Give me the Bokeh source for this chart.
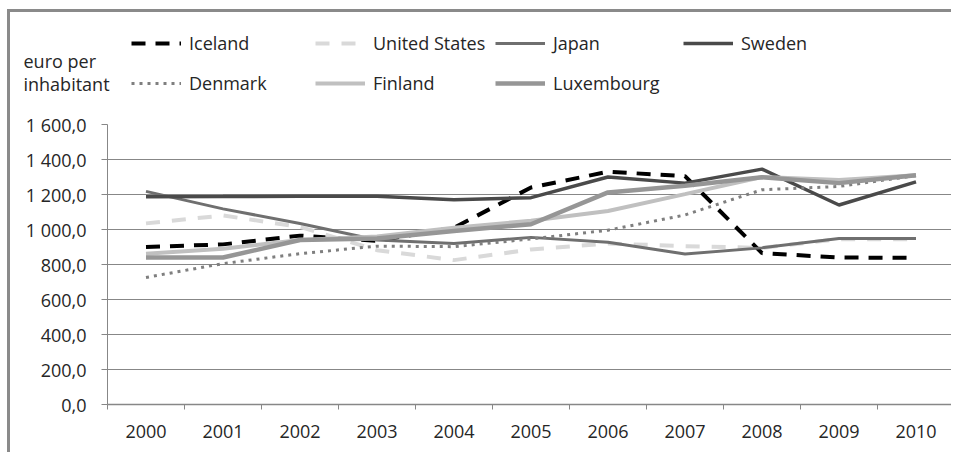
from bokeh.plotting import figure
from bokeh.models import FixedTicker, Legend, LegendItem, Label
from bokeh.embed import file_html
from bokeh.resources import INLINE

years = [2000, 2001, 2002, 2003, 2004, 2005, 2006, 2007, 2008, 2009, 2010]
iceland = [900, 915, 965, 935, 1010, 1240, 1330, 1305, 865, 840, 838]
united_states = [1035, 1080, 1015, 882, 825, 886, 920, 905, 895, 945, 945]
japan = [1218, 1118, 1034, 940, 920, 955, 927, 860, 895, 948, 948]
sweden = [1187, 1188, 1190, 1190, 1170, 1182, 1300, 1265, 1345, 1140, 1272]
denmark = [726, 805, 862, 905, 902, 946, 996, 1083, 1227, 1246, 1308]
finland = [862, 890, 940, 960, 1010, 1050, 1106, 1202, 1300, 1283, 1310]
luxembourg = [840, 840, 940, 948, 992, 1030, 1212, 1250, 1298, 1265, 1310]

y_ticks = [0, 200, 400, 600, 800, 1000, 1200, 1400, 1600]
y_tick_labels = ["0,0", "200,0", "400,0", "600,0", "800,0",
                 "1 000,0", "1 200,0", "1 400,0", "1 600,0"]
y_title = ["euro per", "inhabitant"]

FONT = "Open Sans"
TXT = "#262626"
GRID = "#878787"
BORDER = "3px solid #8a8a8a"
W = 944

series = [
    ("Iceland", iceland, dict(line_color="#000000", line_width=4, line_dash="14 10")),
    ("United States", united_states, dict(line_color="#d9d9d9", line_width=4, line_dash="14 12")),
    ("Japan", japan, dict(line_color="#6f6f6f", line_width=3)),
    ("Sweden", sweden, dict(line_color="#4a4a4a", line_width=3.5)),
    ("Denmark", denmark, dict(line_color="#7f7f7f", line_width=3, line_dash="3 5")),
    ("Finland", finland, dict(line_color="#c0c0c0", line_width=4)),
    ("Luxembourg", luxembourg, dict(line_color="#969696", line_width=4.5)),
]

# ---- header figure: legend and unit title ----
HH = 96
ph = figure(width=W, height=HH, x_range=(0, W), y_range=(0, HH),
            x_axis_type=None, y_axis_type=None,
            output_backend="svg", toolbar_location=None,
            min_border_left=0, min_border_right=0, min_border_top=0, min_border_bottom=0)
ph.outline_line_color = None
ph.border_fill_color = "white"
ph.styles = {"margin-left": "7px", "margin-top": "9px",
             "border-left": BORDER, "border-top": BORDER}

# legend proxies: the real series, which fall outside this header's ranges
hrend = {}
for name, vals, style in series:
    hrend[name] = ph.line(years, vals, **style)

ITEM = 24
GAP = 16
columns_ = [(["Iceland", "Denmark"], 121), (["United States", "Finland"], 305),
            (["Japan", "Luxembourg"], 485), (["Sweden"], 673)]
for names, vx in columns_:
    n = len(names)
    h = ITEM * n + GAP * (n - 1)
    leg = Legend(items=[LegendItem(label=nm, renderers=[hrend[nm]]) for nm in names],
                 location=(vx, HH - 19 - h), orientation="vertical",
                 glyph_width=50, glyph_height=ITEM, label_height=ITEM, label_standoff=8,
                 spacing=GAP, padding=0, margin=0,
                 border_line_color=None, background_fill_alpha=0,
                 label_text_font=FONT, label_text_font_size="18px", label_text_color=TXT)
    ph.add_layout(leg, "center")

for txt, yy in zip(y_title, [48, 25]):
    ph.add_layout(Label(x=13, y=yy, x_units="screen", y_units="screen", text=txt,
                        text_baseline="middle", text_align="left",
                        text_font=FONT, text_font_size="18px", text_color=TXT))

# ---- main chart ----
p = figure(width=W, height=347, x_range=(1999.5, 2010.5), y_range=(0, 1600),
           output_backend="svg", toolbar_location=None,
           min_border_left=97, min_border_top=19, min_border_bottom=48, min_border_right=0)
p.outline_line_color = None
p.border_fill_color = "white"
p.styles = {"margin-left": "7px", "border-left": BORDER}

p.xgrid.visible = False
p.ygrid.grid_line_color = GRID
p.ygrid.grid_line_width = 1

p.yaxis.ticker = FixedTicker(ticks=y_ticks)
p.yaxis.major_label_overrides = dict(zip(y_ticks, y_tick_labels))
p.yaxis.major_tick_out = 6
p.yaxis.major_tick_in = 0
p.yaxis.minor_tick_out = 0
p.yaxis.minor_tick_in = 0
p.yaxis.major_label_standoff = 15
p.yaxis.axis_line_color = GRID
p.yaxis.major_tick_line_color = GRID

bounds = [y - 0.5 for y in years] + [years[-1] + 0.5]
p.xaxis.ticker = FixedTicker(ticks=years, minor_ticks=bounds)
p.xaxis.major_tick_out = 0
p.xaxis.major_tick_in = 0
p.xaxis.minor_tick_out = 5
p.xaxis.minor_tick_in = 0
p.xaxis.minor_tick_line_color = GRID
p.xaxis.axis_line_color = GRID
p.xaxis.axis_line_width = 1.5
p.xaxis.major_label_standoff = 15

for ax in (p.xaxis, p.yaxis):
    ax.major_label_text_font = FONT
    ax.major_label_text_font_size = "18px"
    ax.major_label_text_color = TXT

for name, vals, style in series:
    p.line(years, vals, **style)

open("out.html", "w").write(file_html([ph, p], INLINE))
